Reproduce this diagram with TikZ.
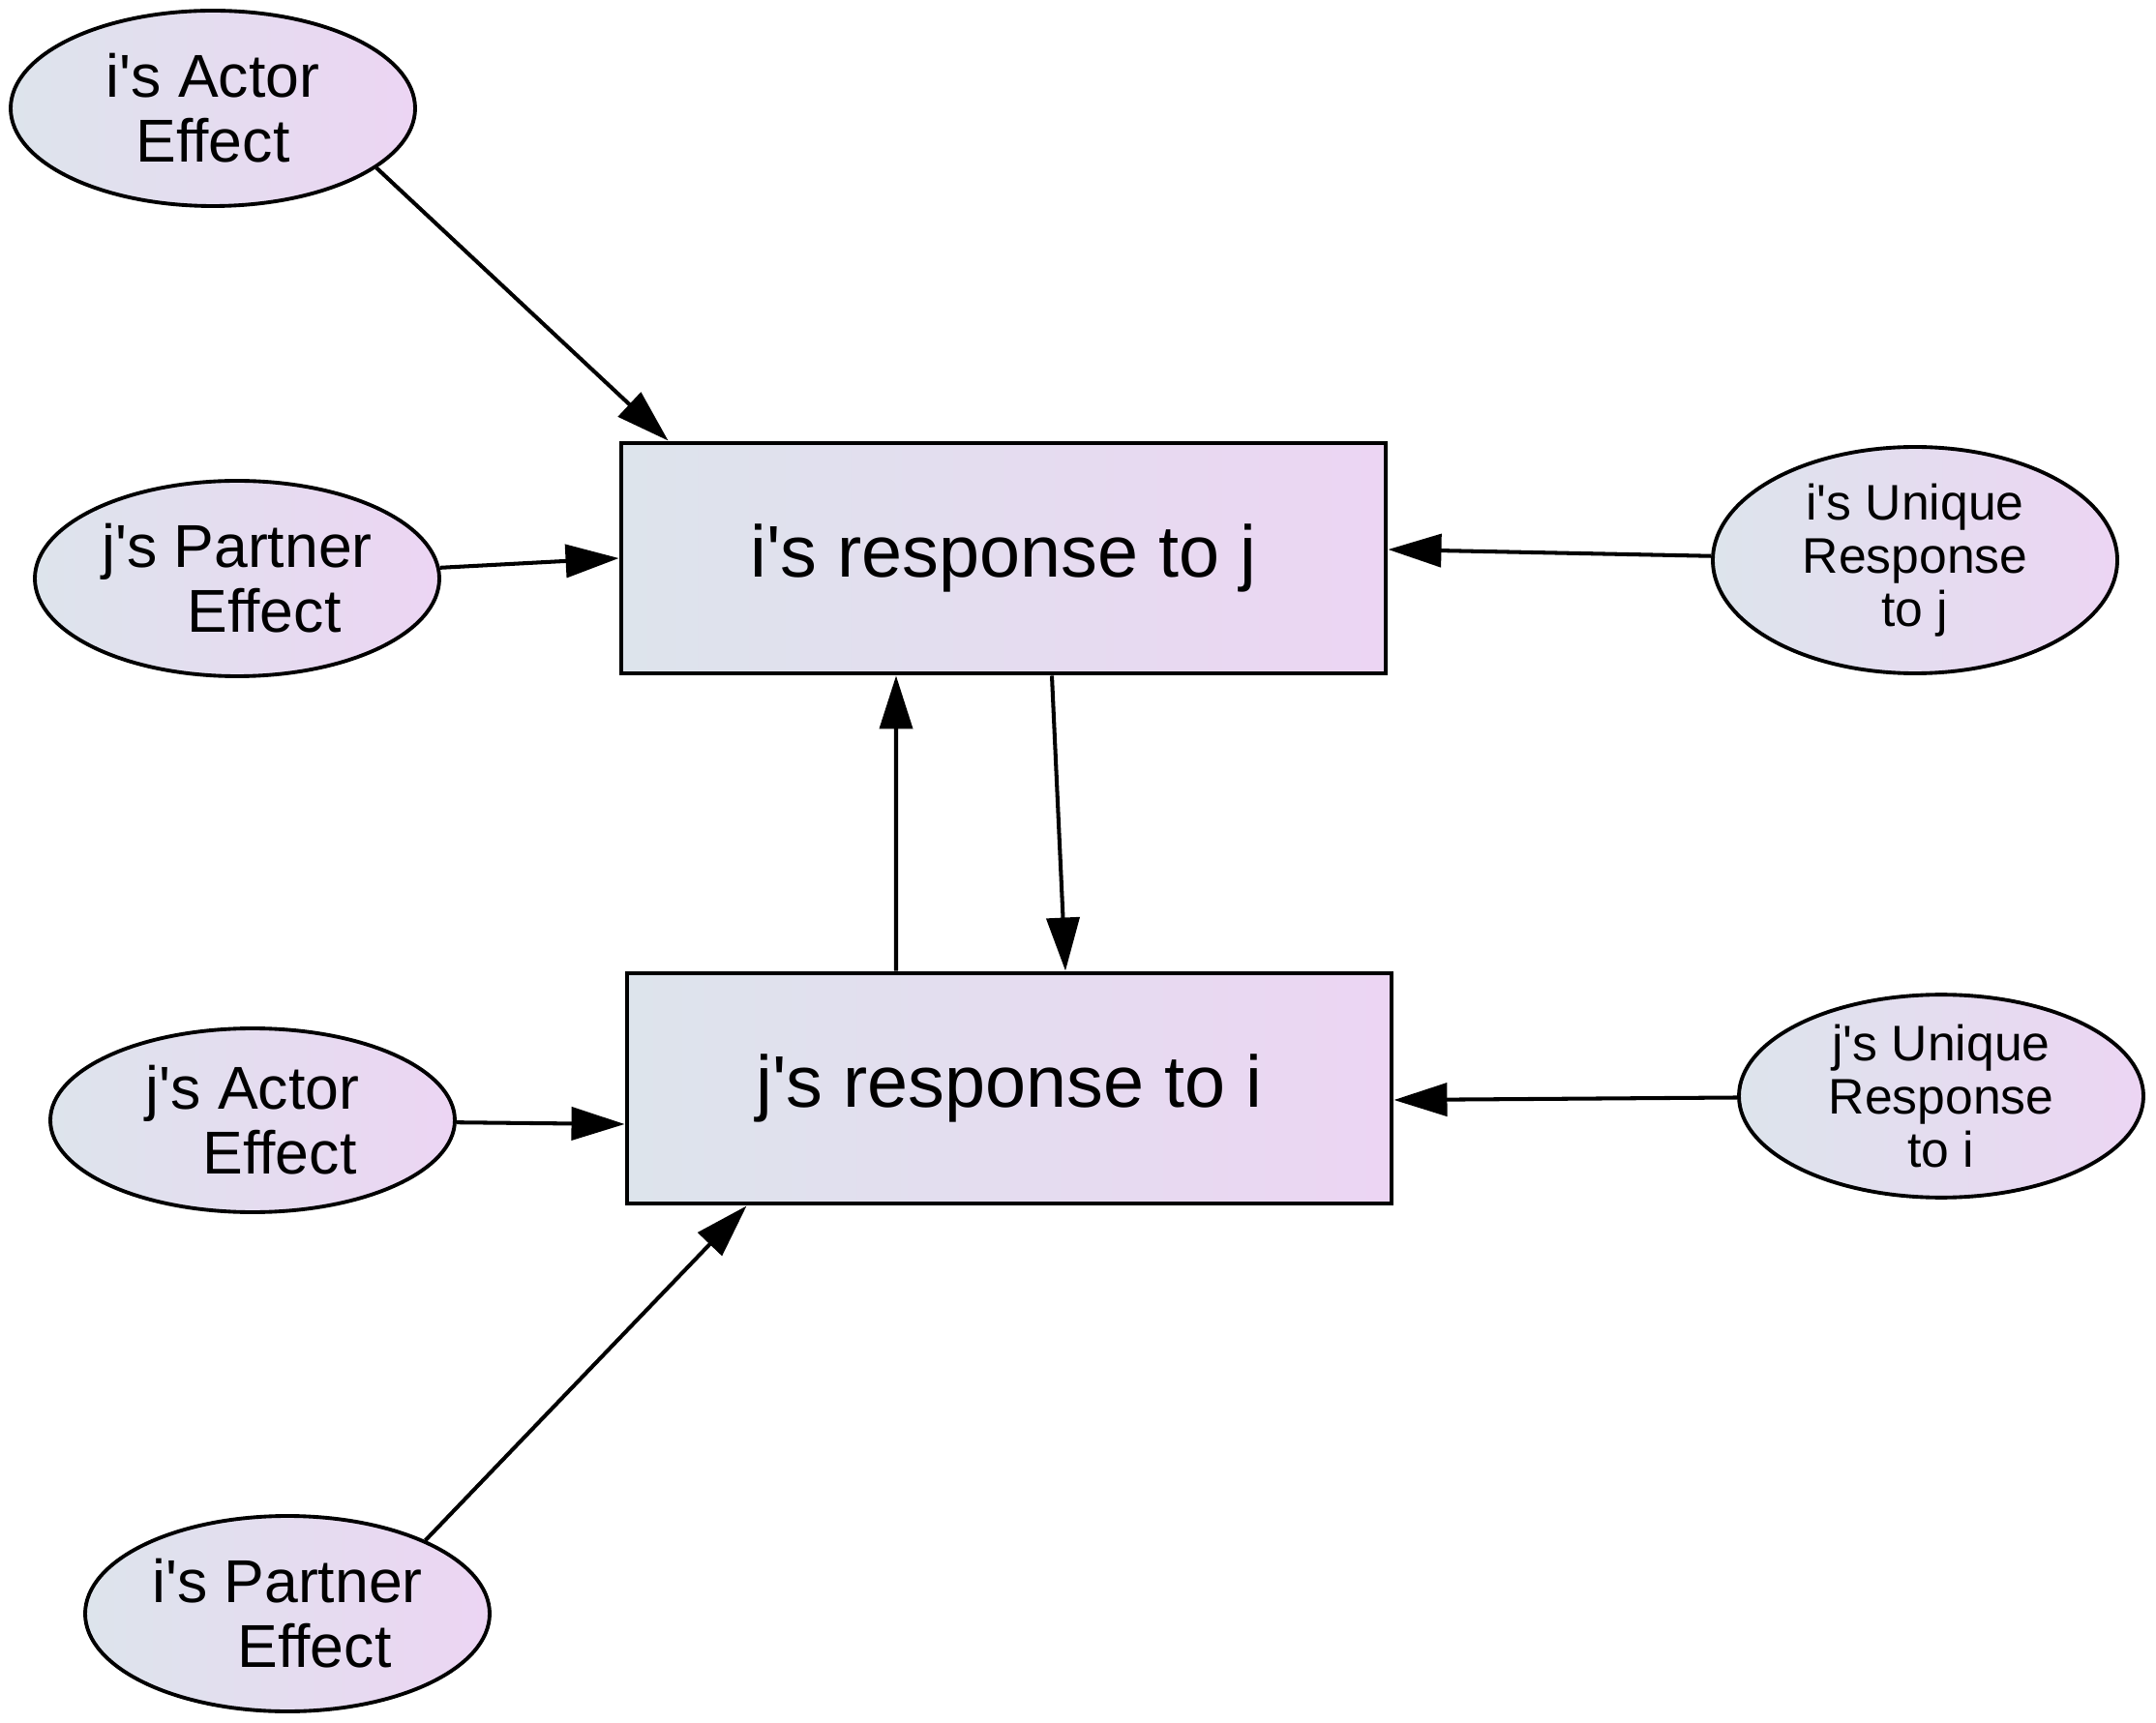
\documentclass[tikz,border=0pt]{standalone}
\usepackage{fontspec}
\setmainfont{Liberation Sans}
\usetikzlibrary{arrows.meta,calc,shapes.geometric}

\definecolor{fillleft}{RGB}{221,228,236}
\definecolor{fillright}{RGB}{236,213,243}

\begin{document}
\begin{tikzpicture}[
    effect/.style={ellipse, draw, line width=1.1pt, left color=fillleft, right color=fillright,
        minimum width=4.18cm, minimum height=2.02cm, inner sep=0pt, align=center,
        font=\fontsize{17.8}{19}\selectfont},
    unique/.style={effect, minimum height=2.3cm, font=\fontsize{14.7}{15.7}\selectfont},
    response/.style={rectangle, draw, line width=1.4pt, left color=fillleft, right color=fillright,
        minimum width=7.9cm, minimum height=2.38cm, font=\fontsize{21.5}{24}\selectfont},
    link/.style={-{Triangle[length=5.5mm,width=3.4mm]}, line width=1.15pt}
]

        % Размеры картинки
        \useasboundingbox (0,0) rectangle (22.28,17.8);

        % Ответы
        \node[response] (iresp) at (10.37,12.03) {i\textquotesingle s response to j};
        \node[response] (jresp) at (10.43,6.55) {j\textquotesingle s response to i};

        % Эффекты слева
        \node[effect] (iactor) at (2.20,16.68) {i\textquotesingle s Actor\\Effect};
        \node[effect] (jpartner) at (2.45,11.82) {j\textquotesingle s Partner\\\hspace*{0.56cm}Effect};
        \node[effect, minimum height=1.9cm] (jactor) at (2.61,6.22) {j\textquotesingle s Actor\\\hspace*{0.56cm}Effect};
        \node[effect] (ipartner) at (2.97,1.12) {i\textquotesingle s Partner\\\hspace*{0.56cm}Effect};

        % Уникальные ответы справа
        \node[unique, minimum height=2.34cm] (iunique) at (19.79,12.01) {i\textquotesingle s Unique\\Response\\to j};
        \node[unique, minimum height=2.06cm] (junique) at (20.06,6.47) {j\textquotesingle s Unique\\Response\\to i};

        % Стрелки к i's response to j
        \draw[link] (iactor.-20) -- ($(iresp.north west)+(0.51,0)$);
        \draw[link] (jpartner) -- (iresp.west);
        \draw[link] (iunique) -- ($(iresp.east)+(0,0.09)$);

        % Стрелки к j's response to i
        \draw[link] (jactor) -- ($(jresp.west)+(0,-0.37)$);
        \draw[link] (junique) -- ($(jresp.east)+(0,-0.12)$);
        \draw[link] (ipartner.28) -- ($(jresp.south west)+(1.26,0)$);

        % Взаимные стрелки
        \draw[link] ($(iresp.south)+(0.5,0)$) -- ($(jresp.north)+(0.58,0)$);
        \draw[link] ($(jresp.north)+(-1.17,0)$) -- ($(iresp.south)+(-1.11,0)$);

\end{tikzpicture}
\end{document}
